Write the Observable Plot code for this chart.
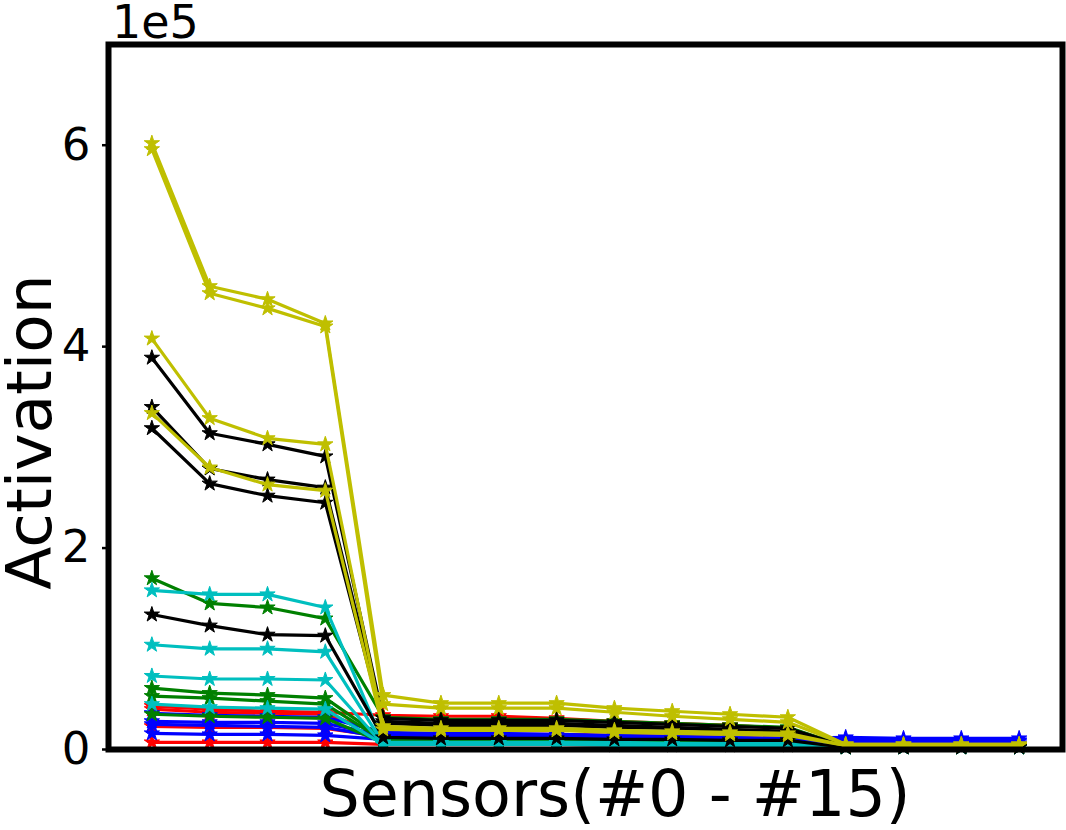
<!DOCTYPE html>
<html>
<head>
<meta charset="utf-8">
<script src="https://cdn.jsdelivr.net/npm/d3@7"></script>
<script src="https://cdn.jsdelivr.net/npm/@observablehq/plot@0.6"></script>
<style>
  html, body { margin: 0; padding: 0; background: white; }
  #chart { width: 1066px; height: 830px; }
</style>
</head>
<body>
<div id="chart"></div>
<script>
// Sensor indices (#0 - #15)
const sensors = [0, 1, 2, 3, 4, 5, 6, 7, 8, 9, 10, 11, 12, 13, 14, 15];

// Activation values in units of 1e5, one row per line, grouped by colour
const redSeries = [
  [0.43, 0.40, 0.38, 0.37, 0.34, 0.33, 0.33, 0.31, 0.28, 0.26, 0.24, 0.21, 0.04, 0.04, 0.04, 0.04],
  [0.40, 0.37, 0.36, 0.35, 0.16, 0.15, 0.15, 0.15, 0.14, 0.13, 0.12, 0.11, 0.03, 0.03, 0.03, 0.03],
  [0.23, 0.22, 0.22, 0.21, 0.13, 0.13, 0.13, 0.12, 0.12, 0.11, 0.10, 0.09, 0.03, 0.03, 0.03, 0.03],
  [0.07, 0.07, 0.07, 0.07, 0.05, 0.05, 0.05, 0.05, 0.04, 0.04, 0.04, 0.04, 0.02, 0.02, 0.02, 0.02]
];
const blueSeries = [
  [0.36, 0.34, 0.33, 0.32, 0.17, 0.16, 0.16, 0.15, 0.14, 0.13, 0.12, 0.11, 0.12, 0.11, 0.11, 0.11],
  [0.28, 0.27, 0.27, 0.26, 0.14, 0.14, 0.13, 0.13, 0.12, 0.12, 0.11, 0.10, 0.10, 0.09, 0.09, 0.09],
  [0.25, 0.24, 0.23, 0.22, 0.12, 0.12, 0.11, 0.11, 0.11, 0.10, 0.10, 0.09, 0.08, 0.08, 0.08, 0.08],
  [0.16, 0.15, 0.15, 0.14, 0.10, 0.10, 0.10, 0.09, 0.09, 0.09, 0.08, 0.08, 0.06, 0.06, 0.06, 0.06]
];
const greenSeries = [
  [1.70, 1.45, 1.41, 1.30, 0.32, 0.30, 0.30, 0.30, 0.28, 0.26, 0.24, 0.22, 0.03, 0.03, 0.03, 0.03],
  [0.61, 0.56, 0.54, 0.51, 0.11, 0.10, 0.10, 0.10, 0.09, 0.09, 0.08, 0.08, 0.02, 0.02, 0.02, 0.02],
  [0.53, 0.51, 0.48, 0.45, 0.09, 0.09, 0.09, 0.09, 0.08, 0.08, 0.07, 0.07, 0.02, 0.02, 0.02, 0.02],
  [0.35, 0.33, 0.32, 0.31, 0.07, 0.07, 0.07, 0.07, 0.06, 0.06, 0.06, 0.06, 0.02, 0.02, 0.02, 0.02]
];
const cyanSeries = [
  [1.58, 1.54, 1.54, 1.41, 0.07, 0.07, 0.07, 0.07, 0.07, 0.06, 0.06, 0.06, 0.03, 0.03, 0.03, 0.03],
  [1.04, 1.00, 1.00, 0.97, 0.06, 0.06, 0.06, 0.06, 0.06, 0.05, 0.05, 0.05, 0.03, 0.03, 0.03, 0.03],
  [0.73, 0.70, 0.70, 0.69, 0.05, 0.05, 0.05, 0.05, 0.05, 0.05, 0.05, 0.05, 0.02, 0.02, 0.02, 0.02],
  [0.45, 0.42, 0.41, 0.40, 0.05, 0.05, 0.05, 0.05, 0.04, 0.04, 0.04, 0.04, 0.02, 0.02, 0.02, 0.02]
];
const blackSeries = [
  [3.89, 3.14, 3.03, 2.91, 0.31, 0.29, 0.29, 0.29, 0.27, 0.25, 0.23, 0.21, 0.03, 0.03, 0.03, 0.03],
  [3.40, 2.79, 2.68, 2.60, 0.28, 0.26, 0.26, 0.26, 0.24, 0.22, 0.20, 0.18, 0.03, 0.03, 0.03, 0.03],
  [3.19, 2.64, 2.52, 2.45, 0.26, 0.24, 0.24, 0.24, 0.22, 0.21, 0.19, 0.17, 0.03, 0.03, 0.03, 0.03],
  [1.34, 1.23, 1.14, 1.13, 0.12, 0.11, 0.11, 0.11, 0.10, 0.10, 0.09, 0.09, 0.02, 0.02, 0.02, 0.02]
];
const yellowSeries = [
  [6.02, 4.60, 4.47, 4.23, 0.54, 0.46, 0.46, 0.46, 0.41, 0.38, 0.35, 0.32, 0.05, 0.05, 0.05, 0.05],
  [5.96, 4.53, 4.38, 4.20, 0.45, 0.41, 0.41, 0.41, 0.37, 0.33, 0.30, 0.27, 0.05, 0.05, 0.05, 0.05],
  [4.08, 3.29, 3.09, 3.03, 0.23, 0.21, 0.21, 0.21, 0.19, 0.18, 0.17, 0.16, 0.04, 0.04, 0.04, 0.04],
  [3.34, 2.80, 2.63, 2.57, 0.20, 0.19, 0.19, 0.19, 0.17, 0.16, 0.15, 0.14, 0.04, 0.04, 0.04, 0.04]
];

const colorGroups = [
  { color: "#ff0000", rows: redSeries },
  { color: "#0000ff", rows: blueSeries },
  { color: "#008000", rows: greenSeries },
  { color: "#00bfbf", rows: cyanSeries },
  { color: "#000000", rows: blackSeries },
  { color: "#bfbf00", rows: yellowSeries }
];

const yTicks = [0, 2, 4, 6];
const yOffsetLabel = "1e5";
const xLabel = "Sensors(#0 - #15)";
const yLabel = "Activation";

// Build per-line marks (line + star markers drawn together, like matplotlib)
const lineMarks = [];
colorGroups.forEach(g => {
  g.rows.forEach(vals => {
    const data = sensors.map((s, i) => ({ sensor: s, value: vals[i] }));
    lineMarks.push(Plot.line(data, { x: "sensor", y: "value", stroke: g.color, strokeWidth: 3.2 }));
    lineMarks.push(Plot.dot(data, { x: "sensor", y: "value", symbol: "star", r: 4.8, fill: g.color, stroke: g.color, strokeWidth: 1 }));
  });
});

const chart = Plot.plot({
  width: 1066,
  height: 830,
  marginLeft: 108,
  marginRight: 4,
  marginTop: 44,
  marginBottom: 81,
  style: { fontFamily: "DejaVu Sans", background: "white", color: "black", overflow: "visible" },
  x: { domain: [-0.75, 15.75], axis: null },
  y: { domain: [0, 7], axis: null },
  marks: [
    ...lineMarks,
    Plot.frame({ stroke: "black", strokeWidth: 6 }),
    Plot.axisY({ ticks: yTicks, tickSize: 6, tickPadding: 12, fontSize: 45, strokeWidth: 2.5, label: null, tickFormat: d => String(d) })
  ]
});

const svg = d3.select(chart);
svg.append("text")
  .attr("x", 112).attr("y", 38)
  .attr("text-anchor", "start")
  .attr("font-family", "DejaVu Sans").attr("font-size", 46)
  .attr("fill", "black")
  .text(yOffsetLabel);
svg.append("text")
  .attr("x", 615).attr("y", 816)
  .attr("text-anchor", "middle")
  .attr("font-family", "DejaVu Sans").attr("font-size", 63.5)
  .attr("fill", "black")
  .text(xLabel);
svg.append("text")
  .attr("transform", "translate(51,432) rotate(-90)")
  .attr("text-anchor", "middle")
  .attr("font-family", "DejaVu Sans").attr("font-size", 63)
  .attr("fill", "black")
  .text(yLabel);

document.getElementById("chart").appendChild(chart);
</script>
</body>
</html>
